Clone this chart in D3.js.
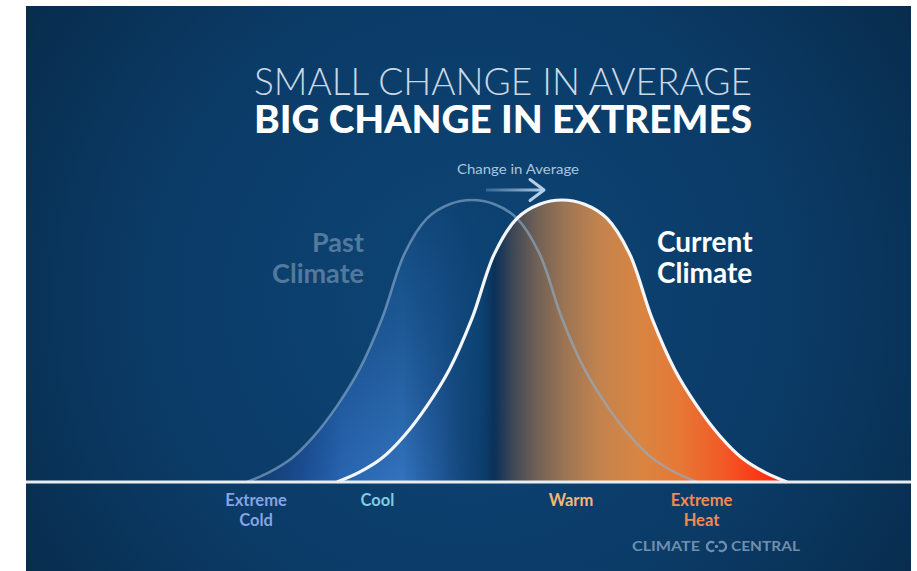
<!DOCTYPE html>
<html>
<head>
<meta charset="utf-8">
<script src="https://cdn.jsdelivr.net/npm/d3@7"></script>
<style>
  html, body { margin: 0; padding: 0; background: #ffffff; }
  svg { display: block; }
</style>
</head>
<body>
<svg id="chart" width="917" height="571"></svg>
<script>
// Temperature grid (arbitrary units, past mean at 0) and relative frequency of each climate
const temperature    = [-10, -9, -8, -7, -6, -5, -4, -3, -2, -1, 0, 1, 2, 3, 4, 5, 6, 7, 8, 9, 10, 11, 12, 13, 14];
const pastClimate    = [0, 3.5, 8.5, 16.5, 27, 40, 58, 81, 93.5, 98.5, 100, 98.5, 93.5, 81, 58, 40, 27, 16.5, 8.5, 3.5, 0, 0, 0, 0, 0];
const currentClimate = [0, 0, 0, 0, 0, 3.5, 8.5, 16.5, 27, 40, 58, 81, 93.5, 98.5, 100, 98.5, 93.5, 81, 58, 40, 27, 16.5, 8.5, 3.5, 0];

// Category labels along the temperature axis
const categoryLabels = [["Extreme", "Cold"], ["Cool"], ["Warm"], ["Extreme", "Heat"]];
const categoryTemps  = [-9.6, -4.2, 4.4, 10.2];
const categoryColors = ["#86a3e4", "#7fcbe2", "#f2b676", "#f28a52"];

const titleLines   = ["SMALL CHANGE IN AVERAGE", "BIG CHANGE IN EXTREMES"];
const arrowLabel   = "Change in Average";
const pastLabel    = ["Past", "Climate"];
const currentLabel = ["Current", "Climate"];
const brandWords   = ["CLIMATE", "CENTRAL"];

const svg = d3.select("#chart");
const W = 917, H = 571;
const frame = { left: 26, top: 6, right: 911, bottom: 571 };

const x = d3.scaleLinear().domain([-10, 14]).range([247, 787]);
const y = d3.scaleLinear().domain([0, 100]).range([482, 200]);

const defs = svg.append("defs");

// background: soft radial navy
const bg = defs.append("radialGradient").attr("id", "bg")
  .attr("gradientUnits", "userSpaceOnUse")
  .attr("cx", 470).attr("cy", 300).attr("r", 580);
bg.append("stop").attr("offset", 0).attr("stop-color", "#0d4576");
bg.append("stop").attr("offset", 0.55).attr("stop-color", "#0b3b67");
bg.append("stop").attr("offset", 1).attr("stop-color", "#072947");

// blue glow under the cool side
const blue = defs.append("linearGradient").attr("id", "blueFill")
  .attr("gradientUnits", "userSpaceOnUse")
  .attr("x1", x(-10)).attr("x2", 515).attr("y1", 0).attr("y2", 0);
[[0, "#173f7a", 0.35], [0.2, "#1f509a", 0.8], [0.36, "#2a66b2", 1], [0.58, "#3373be", 1],
 [0.72, "#2860a6", 0.75], [0.88, "#123f70", 0.3], [1, "#0b3a66", 0]].forEach(s =>
  blue.append("stop").attr("offset", s[0]).attr("stop-color", s[1]).attr("stop-opacity", s[2]));

const fade = defs.append("linearGradient").attr("id", "fadeUp")
  .attr("gradientUnits", "userSpaceOnUse")
  .attr("x1", 0).attr("x2", 0).attr("y1", y(100)).attr("y2", y(0));
fade.append("stop").attr("offset", 0).attr("stop-color", "#222");
fade.append("stop").attr("offset", 0.45).attr("stop-color", "#777");
fade.append("stop").attr("offset", 1).attr("stop-color", "#fff");
defs.append("mask").attr("id", "fadeMask")
  .append("rect").attr("x", 0).attr("y", 0).attr("width", W).attr("height", H)
  .attr("fill", "url(#fadeUp)");

// warm side gradient of the current climate
const warm = defs.append("linearGradient").attr("id", "warmFill")
  .attr("gradientUnits", "userSpaceOnUse")
  .attr("x1", x(-10)).attr("x2", x(14)).attr("y1", 0).attr("y2", 0);
[[478, "#0b3a66", 0], [494, "#0a2f56", 0.9], [512, "#3c4656", 1], [535, "#6d5f56", 1],
 [565, "#9c7554", 1], [600, "#c3834e", 1], [640, "#d98542", 1], [680, "#e67836", 1],
 [720, "#f15c27", 1], [760, "#fb3716", 1], [787, "#ff2208", 1]].forEach(s =>
  warm.append("stop").attr("offset", (s[0] - x(-10)) / (x(14) - x(-10)))
    .attr("stop-color", s[1]).attr("stop-opacity", s[2]));

// arrow shaft gradient
const shaft = defs.append("linearGradient").attr("id", "shaft")
  .attr("gradientUnits", "userSpaceOnUse").attr("x1", 486).attr("x2", 545).attr("y1", 0).attr("y2", 0);
shaft.append("stop").attr("offset", 0).attr("stop-color", "#9cbbd6").attr("stop-opacity", 0.3);
shaft.append("stop").attr("offset", 1).attr("stop-color", "#b4d0e6").attr("stop-opacity", 1);

svg.append("rect").attr("x", frame.left).attr("y", frame.top)
  .attr("width", frame.right - frame.left).attr("height", frame.bottom - frame.top)
  .attr("fill", "url(#bg)");

// series as point lists, trimmed to where each curve lives
function points(values) {
  return temperature.map((t, i) => ({ t, v: values[i], i }))
    .filter(d => d.v > 0 || (values[d.i - 1] || 0) > 0 || (values[d.i + 1] || 0) > 0);
}
const past = points(pastClimate);
const current = points(currentClimate);
const union = points(temperature.map((t, i) => Math.max(pastClimate[i], currentClimate[i])));

const curve = d3.curveCatmullRom.alpha(0.5);
const area = d3.area().x(d => x(d.t)).y0(y(0)).y1(d => y(d.v)).curve(curve);
const line = d3.line().x(d => x(d.t)).y(d => y(d.v)).curve(curve);

svg.append("path").datum(union.filter(d => d.t <= 2)).attr("d", area)
  .attr("fill", "url(#blueFill)").attr("mask", "url(#fadeMask)");
svg.append("path").datum(current).attr("d", area).attr("fill", "url(#warmFill)");

svg.append("path").datum(past).attr("d", line)
  .attr("fill", "none").attr("stroke", "#8fb0cf").attr("stroke-opacity", 0.6)
  .attr("stroke-width", 2.6);
svg.append("path").datum(current).attr("d", line)
  .attr("fill", "none").attr("stroke", "#f4f7fa").attr("stroke-width", 3.2);

// temperature axis baseline
svg.append("line").attr("x1", frame.left).attr("x2", frame.right)
  .attr("y1", y(0)).attr("y2", y(0))
  .attr("stroke", "#e8edf2").attr("stroke-width", 3.2);

// titles
svg.append("text").attr("x", 254).attr("y", 95)
  .attr("font-family", "Lato, 'Open Sans', sans-serif").attr("font-weight", 300)
  .attr("font-size", 38).attr("fill", "#c9d8e6")
  .attr("textLength", 498).attr("lengthAdjust", "spacingAndGlyphs")
  .text(titleLines[0]);
svg.append("text").attr("x", 254).attr("y", 133)
  .attr("font-family", "Lato, 'Open Sans', sans-serif").attr("font-weight", 900)
  .attr("font-size", 38).attr("fill", "#ffffff")
  .attr("textLength", 498).attr("lengthAdjust", "spacingAndGlyphs")
  .text(titleLines[1]);

// change-in-average arrow
svg.append("text").attr("x", 457).attr("y", 174)
  .attr("font-family", "Lato, 'Open Sans', sans-serif").attr("font-size", 14)
  .attr("fill", "#aac6de").attr("textLength", 122).attr("lengthAdjust", "spacingAndGlyphs")
  .text(arrowLabel);
svg.append("line").attr("x1", 486).attr("x2", 543).attr("y1", 190).attr("y2", 190)
  .attr("stroke", "url(#shaft)").attr("stroke-width", 3);
svg.append("path").attr("d", "M530,179.5 L544,190 L530,200.5")
  .attr("fill", "none").attr("stroke", "#b4d0e6").attr("stroke-width", 3)
  .attr("stroke-linecap", "round").attr("stroke-linejoin", "round");

// series labels
const pastText = svg.append("text").attr("text-anchor", "end")
  .attr("font-family", "Lato, 'Open Sans', sans-serif").attr("font-weight", 700)
  .attr("font-size", 27).attr("fill", "#53799c");
pastLabel.forEach((s, i) => pastText.append("tspan").attr("x", 364).attr("y", 252 + i * 30.5).text(s));
const curText = svg.append("text")
  .attr("font-family", "Lato, 'Open Sans', sans-serif").attr("font-weight", 700)
  .attr("font-size", 28).attr("fill", "#ffffff");
currentLabel.forEach((s, i) => curText.append("tspan").attr("x", 657).attr("y", 252 + i * 30.5).text(s));

// category labels below the axis
categoryLabels.forEach((lines, k) => {
  const t = svg.append("text").attr("text-anchor", "middle")
    .attr("font-family", "Lato, 'Open Sans', sans-serif").attr("font-weight", 700)
    .attr("font-size", 16.5).attr("fill", categoryColors[k]);
  lines.forEach((s, i) => t.append("tspan").attr("x", x(categoryTemps[k])).attr("y", 506 + i * 19.5).text(s));
});

// brand mark: two facing C shapes with a dot between
const brand = svg.append("g").attr("fill", "#6f8fad");
brand.append("text").attr("x", 632).attr("y", 551)
  .attr("font-family", "Lato, 'Open Sans', sans-serif").attr("font-weight", 700).attr("font-size", 13)
  .attr("textLength", 68).attr("lengthAdjust", "spacingAndGlyphs").text(brandWords[0]);
brand.append("text").attr("x", 731).attr("y", 551)
  .attr("font-family", "Lato, 'Open Sans', sans-serif").attr("font-weight", 700).attr("font-size", 13)
  .attr("textLength", 69).attr("lengthAdjust", "spacingAndGlyphs").text(brandWords[1]);
const arcL = d3.arc().innerRadius(3.3).outerRadius(5.7).startAngle(Math.PI * 0.8).endAngle(Math.PI * 2.2);
const arcR = d3.arc().innerRadius(3.3).outerRadius(5.7).startAngle(-Math.PI * 0.2).endAngle(Math.PI * 1.2);
brand.append("path").attr("d", arcL()).attr("transform", "translate(711.5,546.5)");
brand.append("path").attr("d", arcR()).attr("transform", "translate(721.5,546.5)");
brand.append("circle").attr("cx", 716.5).attr("cy", 546.5).attr("r", 1.7);
</script>
</body>
</html>
